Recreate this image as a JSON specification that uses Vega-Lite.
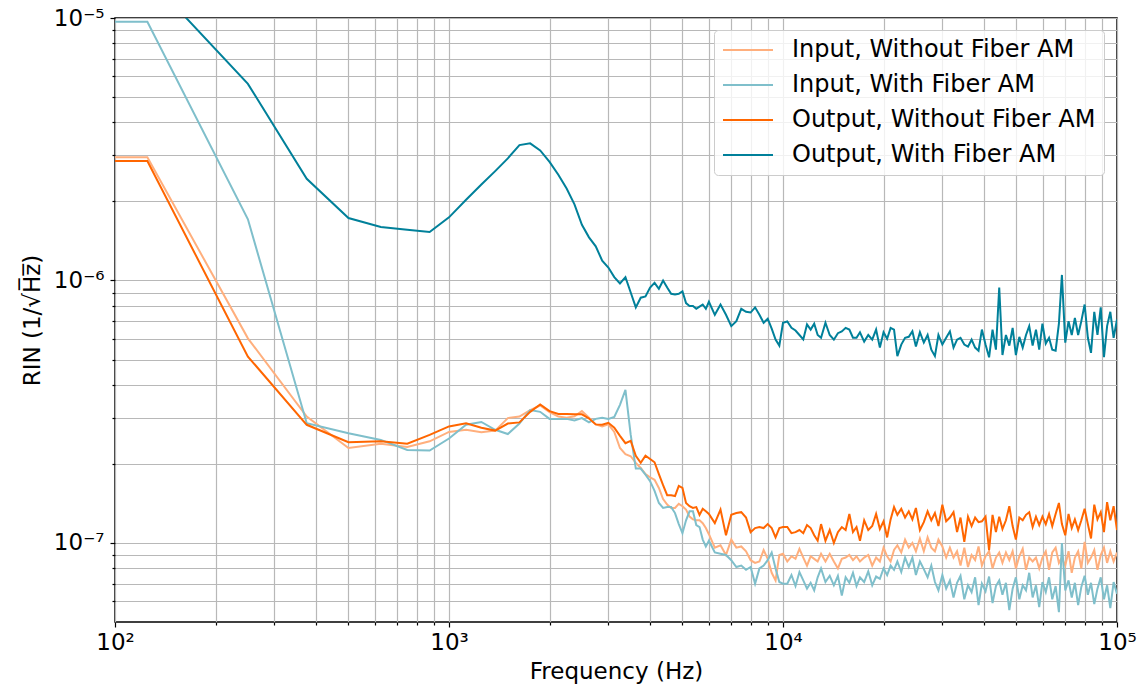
{
"$schema": "https://vega.github.io/schema/vega-lite/v6.json",
"width": 1002, "height": 604,
"autosize": {"type": "none"},
"padding": {"left": 115, "top": 18, "right": 24, "bottom": 65},
"background": "white",
"config": {"font": "DejaVu Sans", "view": {"stroke": "#000000", "strokeWidth": 1.5}},
"data": {"values": [
{"f":100,"a":2.95e-6,"b":9.68e-6,"c":2.85e-6,"d":1.44e-5},
{"f":125,"a":2.95e-6,"b":9.68e-6,"c":2.85e-6,"d":1.44e-5},
{"f":250,"a":6.02e-7,"b":1.71e-6,"c":5.13e-7,"d":5.61e-6},
{"f":375,"a":3.03e-7,"b":2.86e-7,"c":2.82e-7,"d":2.44e-6},
{"f":500,"a":2.30e-7,"b":2.62e-7,"c":2.42e-7,"d":1.73e-6},
{"f":625,"a":2.39e-7,"b":2.47e-7,"c":2.44e-7,"d":1.60e-6},
{"f":750,"a":2.32e-7,"b":2.26e-7,"c":2.39e-7,"d":1.56e-6},
{"f":875,"a":2.44e-7,"b":2.25e-7,"c":2.58e-7,"d":1.53e-6},
{"f":1000,"a":2.65e-7,"b":2.50e-7,"c":2.78e-7,"d":1.74e-6},
{"f":1125,"a":2.70e-7,"b":2.82e-7,"c":2.86e-7,"d":2.03e-6},
{"f":1250,"a":2.64e-7,"b":2.89e-7,"c":2.75e-7,"d":2.32e-6},
{"f":1375,"a":2.68e-7,"b":2.70e-7,"c":2.68e-7,"d":2.61e-6},
{"f":1500,"a":2.99e-7,"b":2.60e-7,"c":2.85e-7,"d":2.92e-6},
{"f":1625,"a":3.03e-7,"b":2.85e-7,"c":2.88e-7,"d":3.28e-6},
{"f":1750,"a":3.21e-7,"b":3.21e-7,"c":3.16e-7,"d":3.33e-6},
{"f":1875,"a":3.34e-7,"b":3.16e-7,"c":3.37e-7,"d":3.13e-6},
{"f":2000,"a":3.15e-7,"b":2.97e-7,"c":3.18e-7,"d":2.83e-6},
{"f":2125,"a":3.03e-7,"b":2.97e-7,"c":3.10e-7,"d":2.53e-6},
{"f":2250,"a":3.00e-7,"b":2.97e-7,"c":3.10e-7,"d":2.24e-6},
{"f":2375,"a":3.04e-7,"b":2.93e-7,"c":3.09e-7,"d":1.95e-6},
{"f":2500,"a":3.18e-7,"b":2.99e-7,"c":3.09e-7,"d":1.63e-6},
{"f":2625,"a":3.00e-7,"b":2.88e-7,"c":2.98e-7,"d":1.46e-6},
{"f":2750,"a":2.83e-7,"b":2.97e-7,"c":2.83e-7,"d":1.35e-6},
{"f":2875,"a":2.78e-7,"b":3.00e-7,"c":2.82e-7,"d":1.19e-6},
{"f":3000,"a":2.83e-7,"b":2.97e-7,"c":2.87e-7,"d":1.12e-6},
{"f":3125,"a":2.65e-7,"b":3.02e-7,"c":2.75e-7,"d":1.03e-6},
{"f":3250,"a":2.30e-7,"b":3.36e-7,"c":2.56e-7,"d":9.75e-7},
{"f":3375,"a":2.18e-7,"b":3.83e-7,"c":2.40e-7,"d":1.03e-6},
{"f":3500,"a":2.14e-7,"b":2.58e-7,"c":2.45e-7,"d":9.0e-7},
{"f":3625,"a":2.02e-7,"b":1.92e-7,"c":2.15e-7,"d":7.9e-7},
{"f":3750,"a":1.93e-7,"b":1.92e-7,"c":2.02e-7,"d":8.6e-7},
{"f":3875,"a":1.83e-7,"b":1.82e-7,"c":2.15e-7,"d":8.7e-7},
{"f":4000,"a":1.78e-7,"b":1.72e-7,"c":2.09e-7,"d":9.4e-7},
{"f":4125,"a":1.74e-7,"b":1.58e-7,"c":2.03e-7,"d":9.8e-7},
{"f":4250,"a":1.62e-7,"b":1.42e-7,"c":1.83e-7,"d":9.3e-7},
{"f":4375,"a":1.47e-7,"b":1.36e-7,"c":1.66e-7,"d":1.0e-6},
{"f":4500,"a":1.40e-7,"b":1.37e-7,"c":1.52e-7,"d":9.4e-7},
{"f":4625,"a":1.36e-7,"b":1.37e-7,"c":1.52e-7,"d":8.9e-7},
{"f":4750,"a":1.36e-7,"b":1.30e-7,"c":1.51e-7,"d":8.85e-7},
{"f":4875,"a":1.41e-7,"b":1.18e-7,"c":1.65e-7,"d":8.9e-7},
{"f":5000,"a":1.38e-7,"b":1.09e-7,"c":1.62e-7,"d":9.1e-7},
{"f":5125,"a":1.34e-7,"b":1.22e-7,"c":1.42e-7,"d":8.2e-7},
{"f":5250,"a":1.26e-7,"b":1.32e-7,"c":1.38e-7,"d":8.0e-7},
{"f":5375,"a":1.23e-7,"b":1.32e-7,"c":1.36e-7,"d":8.0e-7},
{"f":5500,"a":1.22e-7,"b":1.17e-7,"c":1.37e-7,"d":7.8e-7},
{"f":5625,"a":1.22e-7,"b":1.15e-7,"c":1.28e-7,"d":7.95e-7},
{"f":5750,"a":1.19e-7,"b":1.03e-7,"c":1.35e-7,"d":8.1e-7},
{"f":5875,"a":1.14e-7,"b":0.97e-7,"c":1.32e-7,"d":7.8e-7},
{"f":6000,"a":1.08e-7,"b":1.02e-7,"c":1.29e-7,"d":8.3e-7},
{"f":6250,"a":0.96e-7,"b":0.92e-7,"c":1.19e-7,"d":7.4e-7},
{"f":6500,"a":0.98e-7,"b":0.91e-7,"c":1.34e-7,"d":8.1e-7},
{"f":6750,"a":0.90e-7,"b":0.90e-7,"c":1.07e-7,"d":7.4e-7},
{"f":7000,"a":1.03e-7,"b":0.86e-7,"c":1.28e-7,"d":6.7e-7},
{"f":7250,"a":0.96e-7,"b":0.81e-7,"c":1.30e-7,"d":7.0e-7},
{"f":7500,"a":0.97e-7,"b":0.82e-7,"c":1.31e-7,"d":7.8e-7},
{"f":7750,"a":0.93e-7,"b":0.79e-7,"c":1.25e-7,"d":7.6e-7},
{"f":8000,"a":0.86e-7,"b":0.81e-7,"c":1.10e-7,"d":7.55e-7},
{"f":8250,"a":0.84e-7,"b":0.70e-7,"c":1.14e-7,"d":7.9e-7},
{"f":8500,"a":0.85e-7,"b":0.80e-7,"c":1.15e-7,"d":7.4e-7},
{"f":8750,"a":0.94e-7,"b":0.82e-7,"c":1.14e-7,"d":6.9e-7},
{"f":9000,"a":0.87e-7,"b":0.86e-7,"c":1.18e-7,"d":7.15e-7},
{"f":9250,"a":0.77e-7,"b":0.92e-7,"c":1.14e-7,"d":6.55e-7},
{"f":9500,"a":0.72e-7,"b":0.80e-7,"c":1.05e-7,"d":5.96e-7},
{"f":9750,"a":0.90e-7,"b":0.71e-7,"c":1.14e-7,"d":5.65e-7},
{"f":10000,"a":0.91e-7,"b":0.70e-7,"c":1.15e-7,"d":6.9e-7},
{"f":10300,"a":0.85e-7,"b":0.70e-7,"c":1.15e-7,"d":6.98e-7},
{"f":10600,"a":0.89e-7,"b":0.755e-7,"c":1.09e-7,"d":6.6e-7},
{"f":10900,"a":0.87e-7,"b":0.685e-7,"c":1.10e-7,"d":6.45e-7},
{"f":11200,"a":0.95e-7,"b":0.775e-7,"c":1.12e-7,"d":6.2e-7},
{"f":11500,"a":0.88e-7,"b":0.72e-7,"c":1.09e-7,"d":5.96e-7},
{"f":11800,"a":0.82e-7,"b":0.67e-7,"c":1.17e-7,"d":6.8e-7},
{"f":12100,"a":0.89e-7,"b":0.705e-7,"c":1.14e-7,"d":6.5e-7},
{"f":12400,"a":0.87e-7,"b":0.66e-7,"c":1.07e-7,"d":6.85e-7},
{"f":12700,"a":0.85e-7,"b":0.74e-7,"c":1.02e-7,"d":6.2e-7},
{"f":13000,"a":0.91e-7,"b":0.80e-7,"c":1.18e-7,"d":6.05e-7},
{"f":13400,"a":0.85e-7,"b":0.71e-7,"c":1.02e-7,"d":6.9e-7},
{"f":13800,"a":0.91e-7,"b":0.75e-7,"c":1.12e-7,"d":6.2e-7},
{"f":14200,"a":0.85e-7,"b":0.69e-7,"c":1.00e-7,"d":5.95e-7},
{"f":14600,"a":0.80e-7,"b":0.75e-7,"c":1.10e-7,"d":6.3e-7},
{"f":15000,"a":0.87e-7,"b":0.63e-7,"c":1.15e-7,"d":6.4e-7},
{"f":15400,"a":0.88e-7,"b":0.74e-7,"c":1.12e-7,"d":6.6e-7},
{"f":15800,"a":0.90e-7,"b":0.705e-7,"c":1.29e-7,"d":6.5e-7},
{"f":16200,"a":0.86e-7,"b":0.77e-7,"c":1.10e-7,"d":6.05e-7},
{"f":16600,"a":0.89e-7,"b":0.685e-7,"c":1.15e-7,"d":6.05e-7},
{"f":17000,"a":0.85e-7,"b":0.74e-7,"c":1.02e-7,"d":6.35e-7},
{"f":17500,"a":0.88e-7,"b":0.71e-7,"c":1.22e-7,"d":5.85e-7},
{"f":18000,"a":0.90e-7,"b":0.78e-7,"c":1.12e-7,"d":6.2e-7},
{"f":18500,"a":0.82e-7,"b":0.69e-7,"c":1.16e-7,"d":5.95e-7},
{"f":19000,"a":0.88e-7,"b":0.745e-7,"c":1.29e-7,"d":6.5e-7},
{"f":19500,"a":0.85e-7,"b":0.73e-7,"c":1.13e-7,"d":5.55e-7},
{"f":20000,"a":0.96e-7,"b":0.80e-7,"c":1.21e-7,"d":6.35e-7},
{"f":20500,"a":0.89e-7,"b":0.755e-7,"c":1.05e-7,"d":6.0e-7},
{"f":21000,"a":0.85e-7,"b":0.82e-7,"c":1.23e-7,"d":6.6e-7},
{"f":21500,"a":0.94e-7,"b":0.79e-7,"c":1.37e-7,"d":6.5e-7},
{"f":22000,"a":0.98e-7,"b":0.85e-7,"c":1.28e-7,"d":5.15e-7},
{"f":22600,"a":0.92e-7,"b":0.775e-7,"c":1.35e-7,"d":5.7e-7},
{"f":23200,"a":1.03e-7,"b":0.88e-7,"c":1.25e-7,"d":6.05e-7},
{"f":23800,"a":0.96e-7,"b":0.81e-7,"c":1.32e-7,"d":6.1e-7},
{"f":24400,"a":1.00e-7,"b":0.88e-7,"c":1.23e-7,"d":6.4e-7},
{"f":25000,"a":0.93e-7,"b":0.755e-7,"c":1.36e-7,"d":5.6e-7},
{"f":25700,"a":1.04e-7,"b":0.85e-7,"c":1.12e-7,"d":6.35e-7},
{"f":26400,"a":0.93e-7,"b":0.795e-7,"c":1.20e-7,"d":5.8e-7},
{"f":27100,"a":1.05e-7,"b":0.74e-7,"c":1.32e-7,"d":6.2e-7},
{"f":27800,"a":0.96e-7,"b":0.82e-7,"c":1.22e-7,"d":5.45e-7},
{"f":28500,"a":0.93e-7,"b":0.71e-7,"c":1.30e-7,"d":5.15e-7},
{"f":29200,"a":1.03e-7,"b":0.66e-7,"c":1.16e-7,"d":6.2e-7},
{"f":30000,"a":0.97e-7,"b":0.755e-7,"c":1.40e-7,"d":5.7e-7},
{"f":30800,"a":0.88e-7,"b":0.67e-7,"c":1.21e-7,"d":6.05e-7},
{"f":31600,"a":0.96e-7,"b":0.72e-7,"c":1.25e-7,"d":6.4e-7},
{"f":32400,"a":0.88e-7,"b":0.62e-7,"c":1.31e-7,"d":5.55e-7},
{"f":33200,"a":0.93e-7,"b":0.705e-7,"c":1.10e-7,"d":5.95e-7},
{"f":34000,"a":0.82e-7,"b":0.75e-7,"c":1.25e-7,"d":6.05e-7},
{"f":34900,"a":0.96e-7,"b":0.61e-7,"c":1.01e-7,"d":5.7e-7},
{"f":35800,"a":0.81e-7,"b":0.69e-7,"c":1.26e-7,"d":5.6e-7},
{"f":36700,"a":0.90e-7,"b":0.65e-7,"c":1.16e-7,"d":5.95e-7},
{"f":37600,"a":0.86e-7,"b":0.74e-7,"c":1.25e-7,"d":5.55e-7},
{"f":38500,"a":0.97e-7,"b":0.58e-7,"c":1.20e-7,"d":5.4e-7},
{"f":39400,"a":0.82e-7,"b":0.70e-7,"c":1.21e-7,"d":6.5e-7},
{"f":40400,"a":0.89e-7,"b":0.655e-7,"c":1.26e-7,"d":5.7e-7},
{"f":41400,"a":0.93e-7,"b":0.745e-7,"c":0.94e-7,"d":5.1e-7},
{"f":42400,"a":0.80e-7,"b":0.59e-7,"c":1.28e-7,"d":6.5e-7},
{"f":43400,"a":0.88e-7,"b":0.685e-7,"c":1.10e-7,"d":5.45e-7},
{"f":44400,"a":0.92e-7,"b":0.72e-7,"c":1.26e-7,"d":9.4e-7},
{"f":45400,"a":0.84e-7,"b":0.635e-7,"c":1.13e-7,"d":5.2e-7},
{"f":46500,"a":0.92e-7,"b":0.705e-7,"c":1.22e-7,"d":6.2e-7},
{"f":47600,"a":0.86e-7,"b":0.555e-7,"c":1.38e-7,"d":5.65e-7},
{"f":48700,"a":0.93e-7,"b":0.67e-7,"c":1.16e-7,"d":6.6e-7},
{"f":49800,"a":0.80e-7,"b":0.74e-7,"c":1.03e-7,"d":5.2e-7},
{"f":51000,"a":0.89e-7,"b":0.61e-7,"c":1.25e-7,"d":6.1e-7},
{"f":52200,"a":0.95e-7,"b":0.69e-7,"c":1.22e-7,"d":5.55e-7},
{"f":53400,"a":0.79e-7,"b":0.66e-7,"c":1.28e-7,"d":6.2e-7},
{"f":54600,"a":0.88e-7,"b":0.77e-7,"c":1.31e-7,"d":6.7e-7},
{"f":55900,"a":0.85e-7,"b":0.62e-7,"c":1.15e-7,"d":5.65e-7},
{"f":57200,"a":0.88e-7,"b":0.69e-7,"c":1.26e-7,"d":6.5e-7},
{"f":58500,"a":0.80e-7,"b":0.57e-7,"c":1.17e-7,"d":5.45e-7},
{"f":59800,"a":0.88e-7,"b":0.71e-7,"c":1.26e-7,"d":6.85e-7},
{"f":61200,"a":0.93e-7,"b":0.65e-7,"c":1.18e-7,"d":5.75e-7},
{"f":62600,"a":0.79e-7,"b":0.74e-7,"c":1.29e-7,"d":6.05e-7},
{"f":64000,"a":0.92e-7,"b":0.61e-7,"c":1.16e-7,"d":5.45e-7},
{"f":65500,"a":0.96e-7,"b":0.685e-7,"c":1.29e-7,"d":5.4e-7},
{"f":67000,"a":0.84e-7,"b":0.545e-7,"c":1.42e-7,"d":6.85e-7},
{"f":68400,"a":0.88e-7,"b":1.00e-7,"c":1.18e-7,"d":1.05e-6},
{"f":70000,"a":0.82e-7,"b":0.66e-7,"c":1.07e-7,"d":5.8e-7},
{"f":71600,"a":0.93e-7,"b":0.72e-7,"c":1.29e-7,"d":7.0e-7},
{"f":73200,"a":0.77e-7,"b":0.62e-7,"c":1.14e-7,"d":6.2e-7},
{"f":74800,"a":0.88e-7,"b":0.705e-7,"c":1.23e-7,"d":7.2e-7},
{"f":76500,"a":0.93e-7,"b":0.58e-7,"c":1.12e-7,"d":6.2e-7},
{"f":78200,"a":0.80e-7,"b":0.68e-7,"c":1.22e-7,"d":7.0e-7},
{"f":80000,"a":1.01e-7,"b":0.75e-7,"c":1.35e-7,"d":8.1e-7},
{"f":81800,"a":0.84e-7,"b":0.635e-7,"c":1.18e-7,"d":6.05e-7},
{"f":83600,"a":0.88e-7,"b":0.705e-7,"c":1.04e-7,"d":5.3e-7},
{"f":85500,"a":0.94e-7,"b":0.585e-7,"c":1.40e-7,"d":7.6e-7},
{"f":87400,"a":0.79e-7,"b":0.67e-7,"c":1.23e-7,"d":6.2e-7},
{"f":89400,"a":0.90e-7,"b":0.74e-7,"c":1.31e-7,"d":7.9e-7},
{"f":91400,"a":0.96e-7,"b":0.61e-7,"c":1.10e-7,"d":5.1e-7},
{"f":93400,"a":0.84e-7,"b":0.69e-7,"c":1.43e-7,"d":6.7e-7},
{"f":95500,"a":0.93e-7,"b":0.565e-7,"c":1.22e-7,"d":7.6e-7},
{"f":97700,"a":0.85e-7,"b":0.71e-7,"c":1.38e-7,"d":6.05e-7},
{"f":100000,"a":0.92e-7,"b":0.64e-7,"c":1.12e-7,"d":7.1e-7}
]},
"transform": [{"fold": ["a", "b", "c", "d"], "as": ["s", "v"]}],
"mark": {"type": "line", "clip": true, "strokeWidth": 2},
"encoding": {
  "x": {"field": "f", "type": "quantitative",
    "scale": {"type": "log", "domain": [100, 100000], "nice": false},
    "axis": {"title": "Frequency (Hz)", "titleFontSize": 23, "titleFontWeight": "normal", "titleColor": "#000000", "titlePadding": 6,
      "values": [100,200,300,400,500,600,700,800,900,1000,2000,3000,4000,5000,6000,7000,8000,9000,10000,20000,30000,40000,50000,60000,70000,80000,90000,100000],
      "labelExpr": "datum.value == 100 ? '10²' : datum.value == 1000 ? '10³' : datum.value == 10000 ? '10⁴' : datum.value == 100000 ? '10⁵' : ''",
      "labelFontSize": 23, "labelColor": "#000000", "labelPadding": 4, "labelFlush": false, "labelOverlap": false, "labelBound": false,
      "tickColor": "#000000", "tickWidth": 1.2,
      "tickSize": {"condition": {"test": "datum.value == 100 || datum.value == 1000 || datum.value == 10000 || datum.value == 100000", "value": 5}, "value": 3},
      "grid": true, "gridColor": "#b8b8b8", "gridWidth": 1.2, "domain": false}},
  "y": {"field": "v", "type": "quantitative",
    "scale": {"type": "log", "domain": [5e-8, 1e-5], "nice": false},
    "axis": {"title": "RIN  (1/√H̅z̅)", "titleFontSize": 23, "titleFontWeight": "normal", "titleColor": "#000000", "titlePadding": 9,
      "values": [6e-8,7e-8,8e-8,9e-8,1e-7,2e-7,3e-7,4e-7,5e-7,6e-7,7e-7,8e-7,9e-7,1e-6,2e-6,3e-6,4e-6,5e-6,6e-6,7e-6,8e-6,9e-6,1e-5],
      "labelExpr": "datum.value == 1e-5 ? '10⁻⁵' : datum.value == 1e-6 ? '10⁻⁶' : datum.value == 1e-7 ? '10⁻⁷' : ''",
      "labelFontSize": 23, "labelColor": "#000000", "labelPadding": 6, "labelOverlap": false, "labelBound": false, "labelFlush": false,
      "tickColor": "#000000", "tickWidth": 1.2,
      "tickSize": {"condition": {"test": "datum.value == 1e-5 || datum.value == 1e-6 || datum.value == 1e-7", "value": 5}, "value": 3},
      "grid": true, "gridColor": "#b8b8b8", "gridWidth": 1.2, "domain": false}},
  "color": {"field": "s", "type": "nominal",
    "scale": {"domain": ["a", "b", "c", "d"], "range": ["#ffaf7d", "#7fbfcb", "#ff6600", "#00809a"]},
    "legend": {"title": null, "orient": "none", "legendX": 599, "legendY": 12, "padding": 8,
      "strokeColor": "#cccccc", "fillColor": "rgba(255,255,255,0.8)", "cornerRadius": 4,
      "labelFontSize": 24, "labelColor": "#000000", "labelLimit": 0, "labelOffset": 18,
      "symbolType": "stroke", "symbolSize": 2500, "symbolStrokeWidth": 2,
      "clipHeight": 24, "rowPadding": 11,
      "labelExpr": "datum.label == 'a' ? 'Input, Without Fiber AM' : datum.label == 'b' ? 'Input, With Fiber AM' : datum.label == 'c' ? 'Output, Without Fiber AM' : 'Output, With Fiber AM'"}}
}
}
